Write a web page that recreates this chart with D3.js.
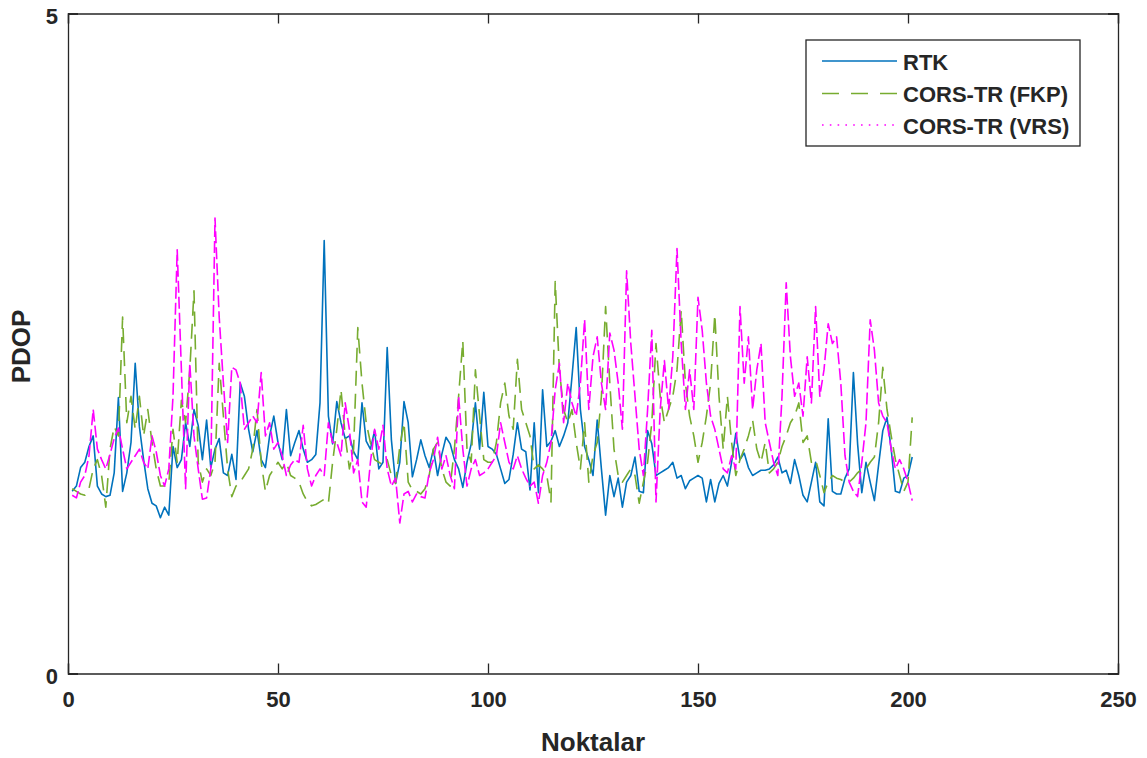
<!DOCTYPE html>
<html>
<head>
<meta charset="utf-8">
<script src="https://cdn.jsdelivr.net/npm/d3@7"></script>
<style>
  body { margin: 0; background: #fff; }
  svg { display: block; font-family: "Liberation Sans", Arial, sans-serif; }
</style>
</head>
<body>
<svg id="chart" width="1147" height="758"></svg>
<script>
// Point numbers 1..201 along the x axis
const pointIds = d3.range(1, 202);

// PDOP per point, RTK
const rtk = [
  1.38, 1.42, 1.56, 1.6, 1.72, 1.8, 1.42, 1.36, 1.34, 1.35, 1.52, 2.09, 1.38, 1.52, 1.75, 2.35, 1.87, 1.62, 1.4, 1.29, 1.27, 1.18, 1.26, 1.2, 1.72,
  1.56, 1.62, 1.9, 1.72, 2.0, 1.88, 1.62, 1.92, 1.56, 1.7, 1.78, 1.52, 1.5, 1.66, 1.47, 2.2, 2.1, 1.85, 1.68, 1.84, 1.62, 1.56, 1.8, 1.95, 1.75,
  1.62, 2.0, 1.65, 1.75, 1.84, 1.7, 1.6, 1.62, 1.66, 2.05, 3.28, 1.95, 1.74, 2.06, 1.9, 1.78, 1.8, 1.68, 1.62, 2.05, 1.76, 1.7, 1.84, 1.55, 1.6,
  2.47, 1.77, 1.44, 1.6, 2.06, 1.9, 1.49, 1.62, 1.77, 1.65, 1.56, 1.7, 1.5, 1.66, 1.79, 1.74, 1.62, 1.55, 1.41, 1.6, 1.74, 2.05, 1.7, 2.13, 1.72,
  1.7, 1.66, 1.55, 1.44, 1.47, 1.66, 1.9, 1.7, 1.68, 1.39, 1.9, 1.37, 2.15, 1.72, 1.76, 1.84, 1.72, 1.8, 1.9, 2.25, 2.62, 2.0, 1.72, 1.62, 1.5,
  1.92, 1.55, 1.2, 1.5, 1.34, 1.48, 1.26, 1.45, 1.5, 1.64, 1.38, 1.37, 1.84, 1.74, 1.5, 1.52, 1.54, 1.56, 1.6, 1.48, 1.5, 1.4, 1.46, 1.48, 1.5,
  1.48, 1.3, 1.47, 1.3, 1.44, 1.5, 1.42, 1.6, 1.82, 1.62, 1.67, 1.56, 1.5, 1.52, 1.54, 1.54, 1.55, 1.58, 1.64, 1.52, 1.54, 1.44, 1.62, 1.5, 1.35,
  1.3, 1.45, 1.6, 1.3, 1.27, 1.93, 1.38, 1.36, 1.36, 1.48, 1.55, 2.28, 1.74, 1.37, 1.6, 1.45, 1.31, 1.58, 1.84, 1.94, 1.7, 1.38, 1.37, 1.48, 1.5, 1.64
];

// PDOP per point, CORS-TR (FKP)
const fkp = [
  1.4, 1.38, 1.36, 1.35, 1.4, 1.55, 1.62, 1.5, 1.26, 1.7, 1.87, 1.8, 2.7, 1.9, 2.1, 1.85, 2.1, 1.8, 2.0, 1.75, 1.55, 1.42, 1.42, 1.44, 1.85,
  1.6, 2.07, 1.9, 2.3, 2.9, 1.6, 1.45, 1.55, 1.5, 1.6, 2.35, 1.95, 1.55, 1.34, 1.42, 1.45, 1.5, 1.55, 1.7, 2.0, 1.6, 1.38, 1.5, 1.55, 1.6,
  1.55, 1.6, 1.5, 1.48, 1.45, 1.36, 1.3, 1.27, 1.28, 1.3, 1.32, 1.29, 1.6, 1.85, 2.15, 1.8, 1.55, 1.7, 2.62, 2.2, 1.9, 1.75, 1.62, 1.6, 1.58,
  1.62, 1.5, 1.44, 1.72, 1.9, 1.45, 1.39, 1.38, 1.36, 1.4, 1.5, 1.7, 1.75, 1.55, 1.45, 1.42, 1.7, 2.1, 2.52, 1.7, 1.6, 2.3, 1.95, 1.62, 1.6,
  1.6, 1.75, 2.05, 2.2, 1.95, 1.85, 2.38, 2.0, 1.9, 1.8, 1.55, 1.58, 1.55, 1.5, 1.3, 2.97, 2.3, 2.0, 1.9, 2.0, 1.75, 1.55, 1.9, 1.45, 1.65,
  1.75, 2.1, 2.78, 2.2, 1.7, 1.5, 1.45, 1.5, 1.55, 1.5, 1.29, 1.45, 1.6, 1.9, 2.5, 2.1, 1.9, 2.0, 2.1, 2.3, 2.75, 2.2, 1.95, 1.8, 1.6,
  1.75, 1.95, 2.2, 2.72, 2.1, 1.7, 2.1, 1.75, 1.5, 1.62, 1.7, 1.8, 1.92, 1.7, 1.6, 1.75, 1.52, 1.55, 1.6, 1.72, 1.8, 1.9, 1.95, 2.05, 1.75,
  1.8, 1.6, 1.62, 1.5, 1.37, 1.45, 1.5, 1.48, 1.47, 1.45, 1.45, 1.48, 1.52, 1.55, 1.55, 1.6, 1.64, 1.9, 2.32, 2.0, 1.8, 1.62, 1.5, 1.38, 1.45, 1.94
];

// PDOP per point, CORS-TR (VRS)
const vrs = [
  1.35, 1.33, 1.45, 1.5, 1.65, 2.0, 1.7, 1.62, 1.55, 1.66, 1.78, 1.86, 1.7, 1.55, 1.6, 1.65, 1.7, 1.6, 1.55, 1.8, 1.68, 1.5, 1.42, 1.55, 2.1,
  3.21, 2.3, 1.4, 2.35, 1.8, 1.55, 1.32, 1.33, 1.55, 3.45, 2.7, 2.2, 1.75, 2.32, 2.3, 2.2, 1.85, 1.9, 1.95, 1.9, 2.28, 1.8, 1.9, 1.7, 1.75,
  1.65, 1.5, 1.58, 1.62, 1.6, 1.88, 1.55, 1.42, 1.5, 1.55, 1.5, 1.9, 1.75, 1.75, 1.65, 2.05, 1.85, 1.52, 1.62, 1.3, 1.26, 1.6, 1.85, 1.7, 1.88,
  1.55, 1.42, 1.48, 1.14, 1.36, 1.38, 1.3, 1.36, 1.34, 1.33, 1.52, 1.62, 1.79, 1.55, 1.65, 1.5, 1.4, 2.1, 1.7, 1.42, 1.55, 1.62, 1.5, 1.52, 1.55,
  1.6, 1.65, 1.9, 1.75, 1.6, 1.55, 1.65, 1.55, 1.48, 1.42, 1.45, 1.29, 1.5, 1.6, 1.75, 2.15, 2.35, 1.9, 2.2, 2.05, 1.95, 2.2, 2.68, 2.0, 2.4,
  2.55, 2.2, 2.0, 2.58, 2.45, 2.2, 1.85, 3.05, 2.5, 2.1, 1.7, 1.5, 2.0, 2.6, 1.3, 2.0, 2.37, 2.0, 2.4, 3.22, 2.5, 2.0, 2.3, 2.0, 2.85,
  2.6, 2.2, 1.95, 1.85, 1.7, 1.55, 1.52, 1.65, 1.55, 2.78, 2.2, 2.55, 2.0, 2.3, 2.5, 1.9, 1.75, 1.6, 1.5, 2.1, 2.96, 2.4, 2.1, 2.2, 1.95,
  2.4, 2.05, 2.78, 2.1, 2.3, 2.65, 2.5, 2.55, 2.2, 1.65, 1.45, 1.38, 1.34, 1.6, 1.9, 2.68, 2.45, 2.05, 1.95, 1.9, 1.7, 1.55, 1.62, 1.55, 1.45, 1.31
];

const seriesNames = ["RTK", "CORS-TR (FKP)", "CORS-TR (VRS)"];
const xTicks = [0, 50, 100, 150, 200, 250];
const yTicks = [0, 5];
const xTitle = "Noktalar";
const yTitle = "PDOP";

// ---- layout and styles ----
const axisColor = "#262626";
const plot = { left: 68, right: 1118, top: 13.5, bottom: 673.5 };
const tickLen = 10;

const styles = [
  { color: "#0072BD", dash: null,   legendDash: null },
  { color: "#77AC30", dash: "15,8", legendDash: "17,12" },
  { color: "#FF00FF", dash: "12,4", legendDash: "1.6,6.2" }
];

const svg = d3.select("#chart");

const x = d3.scaleLinear().domain([0, 250]).range([plot.left, plot.right]);
const y = d3.scaleLinear().domain([0, 5]).range([plot.bottom, plot.top]);

// series lines
const seriesData = [rtk, fkp, vrs];
const line = d3.line()
  .x((d, i) => x(pointIds[i]))
  .y(d => y(d));

const lines = svg.append("g").attr("class", "series");
seriesData.forEach((vals, k) => {
  const p = lines.append("path")
    .datum(vals)
    .attr("d", line)
    .attr("fill", "none")
    .attr("stroke", styles[k].color)
    .attr("stroke-width", 1.6)
    .attr("stroke-linejoin", "round");
  if (styles[k].dash) p.attr("stroke-dasharray", styles[k].dash);
});

// axes: bottom and left with inward ticks, mirrored at top and right (box)
const fontTick = 22;
const xAxis = d3.axisBottom(x).tickValues(xTicks).tickSize(-tickLen).tickPadding(tickLen + 8).tickFormat(d3.format("d"));
const yAxis = d3.axisLeft(y).tickValues(yTicks).tickSize(-tickLen).tickPadding(10).tickFormat(d3.format("d"));
const xAxisTop = d3.axisTop(x).tickValues(xTicks).tickSize(-tickLen).tickFormat("");
const yAxisRight = d3.axisRight(y).tickValues(yTicks).tickSize(-tickLen).tickFormat("");

function styleAxis(g) {
  g.select(".domain").attr("stroke", axisColor).attr("stroke-width", 1.3);
  g.selectAll(".tick line").attr("stroke", axisColor).attr("stroke-width", 1.3);
  g.selectAll(".tick text")
    .attr("fill", axisColor)
    .attr("font-size", fontTick)
    .attr("font-weight", "bold")
    .attr("font-family", "'Liberation Sans', Arial, sans-serif");
}

svg.append("g").attr("transform", `translate(0,${plot.bottom})`).call(xAxis).call(styleAxis);
svg.append("g").attr("transform", `translate(${plot.left},0)`).call(yAxis).call(styleAxis)
  .selectAll(".tick text").attr("dy", "0.45em");
svg.append("g").attr("transform", `translate(0,${plot.top})`).call(xAxisTop).call(styleAxis);
svg.append("g").attr("transform", `translate(${plot.right},0)`).call(yAxisRight).call(styleAxis);

// axis titles
svg.append("text")
  .attr("x", (plot.left + plot.right) / 2)
  .attr("y", 751)
  .attr("text-anchor", "middle")
  .attr("font-size", 26)
  .attr("font-weight", "bold")
  .attr("fill", axisColor)
  .text(xTitle);

svg.append("text")
  .attr("transform", `translate(30,${(plot.top + plot.bottom) / 2 + 3}) rotate(-90)`)
  .attr("text-anchor", "middle")
  .attr("font-size", 26)
  .attr("font-weight", "bold")
  .attr("fill", axisColor)
  .text(yTitle);

// legend
const legend = svg.append("g").attr("class", "legend");
legend.append("rect")
  .attr("x", 806).attr("y", 40).attr("width", 274).attr("height", 106)
  .attr("fill", "#fff").attr("stroke", axisColor).attr("stroke-width", 1.3);

const rowY = [61, 93.5, 125];
seriesNames.forEach((name, k) => {
  const ln = legend.append("line")
    .attr("x1", 822).attr("x2", 897)
    .attr("y1", rowY[k]).attr("y2", rowY[k])
    .attr("stroke", styles[k].color)
    .attr("stroke-width", 1.5);
  if (styles[k].legendDash) ln.attr("stroke-dasharray", styles[k].legendDash);
  legend.append("text")
    .attr("x", 903).attr("y", rowY[k] + 3)
    .attr("dominant-baseline", "middle")
    .attr("font-size", 22)
    .attr("font-weight", "bold")
    .attr("fill", axisColor)
    .text(name);
});
</script>
</body>
</html>
